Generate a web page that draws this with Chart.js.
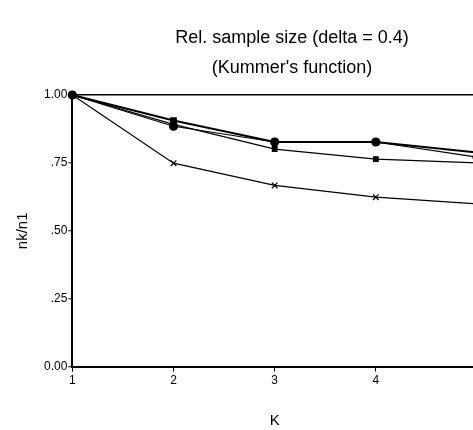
<!DOCTYPE html>
<html>
<head>
<meta charset="utf-8">
<script src="https://cdn.jsdelivr.net/npm/chart.js@4"></script>
<style>
html,body{margin:0;padding:0;background:#fff;overflow:hidden;width:473px;height:430px;}
#wrap{position:absolute;left:0;top:0;width:570px;height:430px;}
</style>
</head>
<body>
<div id="wrap"><canvas id="c" width="570" height="430"></canvas></div>
<script>
const kValues = [1, 2, 3, 4, 5];
const seriesCircle = [1.00, 0.885, 0.827, 0.827, 0.771];
const seriesSquare = [1.00, 0.892, 0.801, 0.764, 0.750];
const seriesThick  = [1.00, 0.906, 0.827, 0.827, 0.788];
const seriesCross  = [1.00, 0.749, 0.667, 0.624, 0.599];
const yTickLabels = {0: '0.00', 0.25: '.25', 0.5: '.50', 0.75: '.75', 1: '1.00'};

const toXY = arr => arr.map((v, i) => ({x: kValues[i], y: v}));
const base = {borderColor: '#000', backgroundColor: '#000', pointBorderColor: '#000', pointBackgroundColor: '#000', clip: false, tension: 0, yAxisID: 'y'};
const FONT = 'Liberation Sans, Arial, sans-serif';

new Chart(document.getElementById('c'), {
  type: 'line',
  data: {
    datasets: [
      Object.assign({}, base, {label: 'A', data: toXY(seriesCircle), borderWidth: 1.2, pointStyle: 'circle', pointRadius: 4}),
      Object.assign({}, base, {label: 'B', data: toXY(seriesSquare), borderWidth: 1.2, pointStyle: 'rect', pointRadius: 3.3}),
      Object.assign({}, base, {label: 'C', data: toXY(seriesThick), borderWidth: 2, pointStyle: 'rect', pointRadius: 3.3}),
      Object.assign({}, base, {label: 'D', data: toXY(seriesCross), borderWidth: 1.2, pointStyle: 'crossRot', pointRadius: 4, pointBorderWidth: 1.2})
    ]
  },
  options: {
    responsive: false,
    animation: false,
    layout: {padding: {left: 14, right: 0, top: 8, bottom: 0}},
    plugins: {
      legend: {display: false},
      tooltip: {enabled: false},
      title: {
        display: true,
        text: ['Rel. sample size (delta = 0.4)', "(Kummer's function)"],
        color: '#000',
        font: {family: FONT, size: 18, weight: 'normal', lineHeight: 1.667},
        padding: {top: 15, bottom: 12}
      }
    },
    scales: {
      x: {
        type: 'linear',
        min: 1, max: 5,
        ticks: {stepSize: 1, color: '#000', font: {family: FONT, size: 12}, padding: 2},
        grid: {color: 'transparent', tickColor: '#000', drawTicks: true, tickLength: 5, tickWidth: 1},
        border: {display: true, color: '#000', width: 2},
        title: {display: true, text: 'K', color: '#000', font: {family: FONT, size: 15}, padding: {top: 22, bottom: 0}}
      },
      y: {
        position: 'left',
        min: 0, max: 1,
        ticks: {stepSize: 0.25, color: '#000', font: {family: FONT, size: 12}, padding: 1,
          callback: v => yTickLabels[v] !== undefined ? yTickLabels[v] : ''},
        grid: {color: ctx => (ctx.tick && ctx.tick.value === 1) ? '#000' : 'transparent', lineWidth: 1.5, tickColor: '#000', drawTicks: true, tickLength: 4, tickWidth: 1},
        border: {display: true, color: '#000', width: 2},
        title: {display: true, text: 'nk/n1', color: '#000', font: {family: FONT, size: 15}, padding: {top: 0, bottom: 11}}
      },
      yRight: {
        position: 'right',
        display: true,
        min: 0, max: 1,
        ticks: {display: false},
        grid: {display: false, drawTicks: false},
        border: {display: false},
        afterFit: s => { s.width = 93; }
      }
    }
  }
});
</script>
</body>
</html>
